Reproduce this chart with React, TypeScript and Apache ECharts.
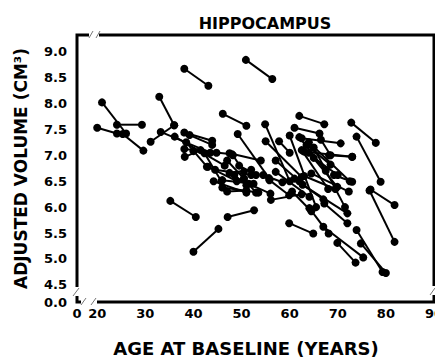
import React, { useEffect, useRef } from "react";
import * as echarts from "echarts";

// Each subject: baseline (age, volume) -> follow-up (age, volume)
const baseAge = [20.0, 21.0, 24.1, 25.3, 31.1, 32.9, 33.2, 36.1, 38.1, 38.1, 39.2, 38.1, 38.2, 40.0, 38.5, 35.2, 40.0, 42.3, 43.0, 44.5, 44.2, 46.0, 46.0, 47.0, 47.0, 47.5, 49.5, 47.5, 48.2, 49.2, 50.5, 46.1, 50.9, 47.1, 48.5, 51.5, 54.9, 55.0, 57.8, 57.1, 55.8, 56.1, 54.5, 59.9, 60.0, 60.5, 62.0, 61.0, 62.5, 62.0, 62.5, 63.0, 63.5, 64.0, 63.0, 64.5, 65.0, 66.5, 57.1, 62.7, 67.2, 64.1, 67.0, 69.9, 69.2, 61.0, 68.2, 72.8, 73.9, 76.8, 76.6, 73.9, 74.8, 64.0, 65.0];
const baseVol = [7.53, 8.02, 7.59, 7.41, 7.26, 8.13, 7.45, 7.36, 8.67, 7.44, 7.39, 7.12, 6.97, 7.08, 7.25, 6.12, 5.14, 7.04, 6.78, 6.72, 6.50, 6.52, 6.38, 6.30, 6.90, 6.66, 6.80, 7.04, 7.00, 7.41, 6.55, 7.80, 8.84, 5.81, 6.62, 6.45, 7.60, 7.27, 7.27, 6.90, 6.52, 6.14, 6.62, 5.69, 7.38, 6.30, 7.76, 7.53, 7.33, 7.35, 7.10, 7.07, 7.20, 7.25, 6.60, 6.65, 6.95, 7.30, 6.68, 6.43, 6.07, 5.98, 5.62, 5.31, 6.62, 6.55, 7.00, 7.63, 7.36, 6.34, 6.32, 5.56, 5.30, 7.05, 7.15];
const followAge = [24.1, 26.0, 29.3, 29.6, 36.0, 36.0, 43.5, 46.5, 43.1, 43.9, 43.9, 48.0, 41.5, 44.8, 42.8, 40.5, 45.2, 45.8, 49.0, 52.0, 51.0, 52.5, 53.5, 51.0, 50.5, 52.0, 53.0, 54.0, 50.5, 55.7, 53.0, 51.0, 56.4, 52.6, 51.0, 56.0, 60.0, 62.5, 60.0, 62.0, 59.9, 62.5, 58.5, 64.9, 65.5, 64.5, 67.2, 66.2, 70.6, 67.5, 68.0, 73.0, 68.5, 72.5, 69.5, 72.3, 70.0, 68.5, 64.1, 72.0, 72.0, 68.1, 75.3, 73.7, 73.0, 67.0, 73.0, 77.9, 78.9, 81.8, 81.8, 79.3, 80.0, 69.9, 71.5];
const followVol = [7.42, 7.42, 7.59, 7.09, 7.58, 7.58, 7.05, 6.80, 8.34, 7.28, 7.20, 7.02, 7.10, 7.05, 6.78, 5.81, 5.58, 6.50, 6.50, 6.62, 6.28, 6.45, 6.28, 6.32, 6.55, 6.72, 6.62, 6.90, 6.68, 6.56, 6.28, 7.57, 8.47, 5.94, 6.42, 6.26, 6.50, 6.58, 7.05, 6.50, 6.23, 6.25, 6.48, 5.49, 6.00, 5.92, 7.60, 7.42, 7.23, 6.70, 6.35, 6.97, 6.82, 6.50, 6.35, 6.30, 6.62, 7.00, 6.20, 5.88, 5.69, 5.49, 5.03, 4.93, 6.49, 6.15, 6.97, 7.24, 6.49, 6.04, 5.33, 4.75, 4.73, 6.39, 6.00];

// Axis ticks (the broken-axis start is labelled 0)
const xBreakValue = 15.8;
const xTicks = [xBreakValue, 20, 30, 40, 50, 60, 70, 80, 90];
const yBreakValue = 4.17;
const yTicks = [yBreakValue, 4.5, 5.0, 5.5, 6.0, 6.5, 7.0, 7.5, 8.0, 8.5, 9.0];

const FONT = "DejaVu Sans";

export default function App() {
  const ref = useRef<HTMLDivElement>(null);
  useEffect(() => {
    document.body.style.margin = "0";
    if (!ref.current) return;
    const chart = echarts.init(ref.current, null, { renderer: "svg" });
    const series = baseAge.map((a, i) => ({
      type: "line" as const,
      data: [
        [a, baseVol[i]],
        [followAge[i], followVol[i]],
      ],
      symbol: "circle",
      symbolSize: 8,
      showSymbol: true,
      itemStyle: { color: "#000" },
      lineStyle: { color: "#000", width: 2 },
      silent: true,
    }));
    const gapLine = (x1: number, y1: number, x2: number, y2: number) => ({
      type: "line",
      z: 101,
      shape: { x1, y1, x2, y2 },
      style: { stroke: "#777", lineWidth: 1 },
    });
    const gapRect = (x: number, y: number, width: number, height: number) => ({
      type: "rect",
      z: 100,
      shape: { x, y, width, height },
      style: { fill: "#fff" },
    });
    chart.setOption({
      animation: false,
      backgroundColor: "#fff",
      title: {
        text: "HIPPOCAMPUS",
        left: 260,
        top: 10,
        textAlign: "center",
        textStyle: { fontFamily: FONT, fontWeight: "bold", fontSize: 16, color: "#000" },
      },
      grid: {
        left: 77,
        top: 35,
        right: 1,
        bottom: 61,
        show: true,
        borderColor: "#000",
        borderWidth: 3,
        containLabel: false,
        outerBoundsMode: "none",
      },
      xAxis: {
        type: "value",
        min: xBreakValue,
        max: 90,
        name: "AGE AT BASELINE (YEARS)",
        nameLocation: "middle",
        nameGap: 37,
        nameTextStyle: {
          fontFamily: FONT,
          fontWeight: "bold",
          fontSize: 18,
          color: "#000",
          padding: [0, 19, 0, 0],
        },
        axisLine: { show: false },
        axisTick: { show: false, customValues: xTicks },
        splitLine: { show: false },
        axisLabel: {
          customValues: xTicks,
          showMinLabel: true,
          showMaxLabel: true,
          margin: 5,
          fontFamily: FONT,
          fontWeight: "bold",
          fontSize: 13,
          color: "#000",
          formatter: (v: number) => (v < 19 ? "0" : String(v)),
        },
      },
      yAxis: {
        type: "value",
        min: yBreakValue,
        max: 9.32,
        name: "ADJUSTED VOLUME (CM³)",
        nameLocation: "middle",
        nameGap: 48,
        nameTextStyle: { fontFamily: FONT, fontWeight: "bold", fontSize: 17, color: "#000" },
        axisLine: { show: false },
        axisTick: { show: false, customValues: yTicks },
        splitLine: { show: false },
        axisLabel: {
          customValues: yTicks,
          showMinLabel: true,
          showMaxLabel: true,
          margin: 10,
          fontFamily: FONT,
          fontWeight: "bold",
          fontSize: 13,
          color: "#000",
          formatter: (v: number) => (v < 4.3 ? "0.0" : v.toFixed(1)),
        },
      },
      graphic: [
        // left axis break
        gapRect(72, 287, 10, 9),
        gapLine(73, 296, 79, 288),
        // bottom axis break
        gapRect(81, 297, 16, 9),
        gapLine(81, 305, 86, 298),
        gapLine(91, 305, 96, 298),
        // top frame break
        gapRect(89, 30, 10, 9),
        gapLine(89, 38, 93, 31),
        gapLine(96, 38, 100, 31),
        // right frame break
        gapRect(429, 286, 7, 9),
        gapLine(430, 295, 435, 288),
      ],
      series,
    });
    return () => chart.dispose();
  }, []);
  return <div ref={ref} style={{ width: 435, height: 363 }} />;
}
